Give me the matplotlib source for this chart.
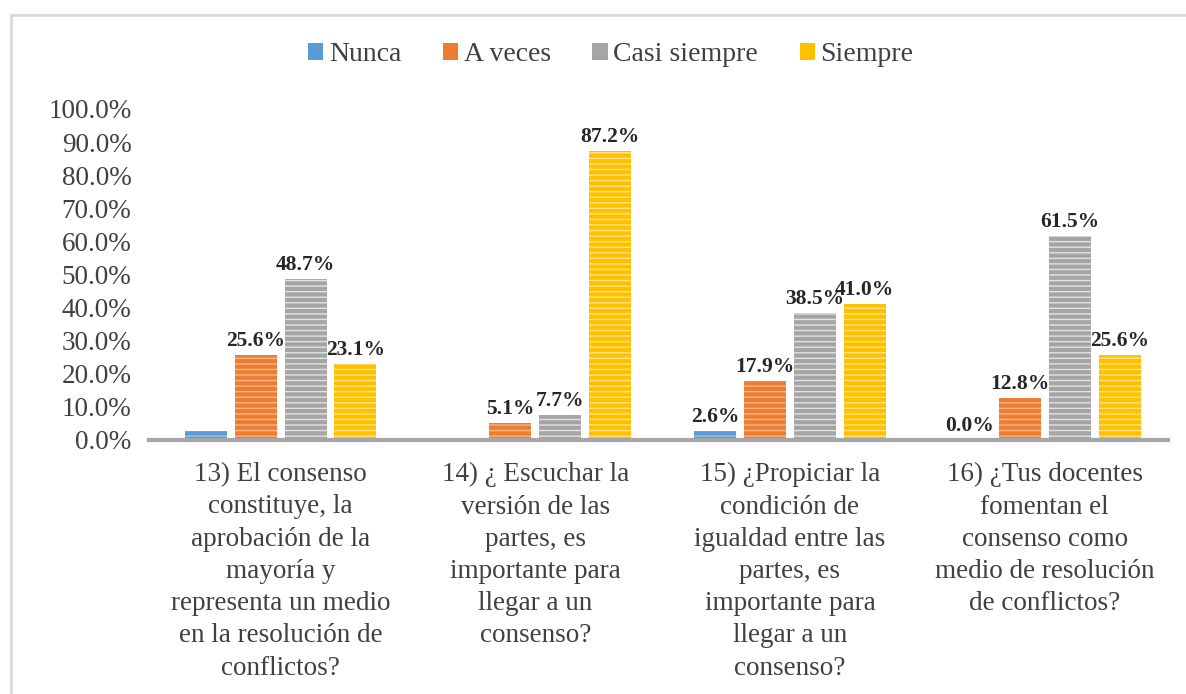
import numpy as np
import matplotlib.pyplot as plt
from matplotlib.patches import Rectangle

plt.rcParams['font.family'] = ['Liberation Serif', 'DejaVu Serif']
plt.rcParams['hatch.linewidth'] = 1.0

preguntas = [
    "13) El consenso\nconstituye, la\naprobación de la\nmayoría y\nrepresenta un medio\nen la resolución de\nconflictos?",
    "14) ¿ Escuchar la\nversión de las\npartes, es\nimportante para\nllegar a un\nconsenso?",
    "15) ¿Propiciar la\ncondición de\nigualdad entre las\npartes, es\nimportante para\nllegar a un\nconsenso?",
    "16) ¿Tus docentes\nfomentan el\nconsenso como\nmedio de resolución\nde conflictos?",
]
series = ["Nunca", "A veces", "Casi siempre", "Siempre"]
nunca = [2.6, 0.0, 2.6, 0.0]
a_veces = [25.6, 5.1, 17.9, 12.8]
casi_siempre = [48.7, 7.7, 38.5, 61.5]
siempre = [23.1, 87.2, 41.0, 25.6]
# which value labels appear in the original
nunca_label = [False, False, True, True]

colors = ["#5B9BD5", "#ED7D31", "#A5A5A5", "#FFC000"]
stripes = ["#9CC3E6", "#F6B48A", "#E2E2E2", "#FFE38A"]

fig = plt.figure(figsize=(11.86, 6.94), dpi=100)
ax = fig.add_axes([0.126, 0.366, 0.859, 0.477])

x = np.arange(len(preguntas))
pitch = 0.196
width = 0.165
data = [nunca, a_veces, casi_siempre, siempre]
for i, (name, vals) in enumerate(zip(series, data)):
    pos = x + (i - 1.5) * pitch
    ax.bar(pos, vals, width, color=colors[i], edgecolor=stripes[i],
           linewidth=0, hatch='---', label=name, zorder=2)
    for j, v in enumerate(vals):
        if i == 0 and not nunca_label[j]:
            continue
        ax.text(pos[j], v + 1.2, "{:.1f}%".format(v), ha='center', va='bottom',
                fontsize=15.5, fontweight='bold', color='#262626')

ax.set_ylim(0, 100)
ax.set_xlim(-0.515, 3.485)
ax.set_yticks(np.arange(0, 101, 10))
ax.set_yticklabels(["{:.1f}%".format(t) for t in np.arange(0, 101, 10)],
                   fontsize=19.5, color='#404040')
ax.set_xticks(x)
ax.set_xticklabels(preguntas, fontsize=19.5, color='#404040', linespacing=1.38)
ax.tick_params(axis='both', length=0)
ax.tick_params(axis='x', pad=16)
ax.tick_params(axis='y', pad=13)
for s in ['top', 'right', 'left']:
    ax.spines[s].set_visible(False)
ax.spines['bottom'].set_color('#A6A6A6')
ax.spines['bottom'].set_linewidth(3)

leg = fig.legend(loc='center', bbox_to_anchor=(0.515, 0.921), ncol=4, frameon=False,
                 fontsize=20, handlelength=0.55, handleheight=0.55, handletextpad=0.2,
                 columnspacing=1.5, labelcolor='#404040')
for h in leg.legend_handles:
    h.set_hatch(None)

# outer frame of the original chart
fig.patches.append(Rectangle((11 / 1186, -0.1), 1.2, 1 - 15 / 694 + 0.1,
                             transform=fig.transFigure, fill=False,
                             edgecolor='#D9D9D9', linewidth=2))

fig.savefig("out.png", dpi=100)
